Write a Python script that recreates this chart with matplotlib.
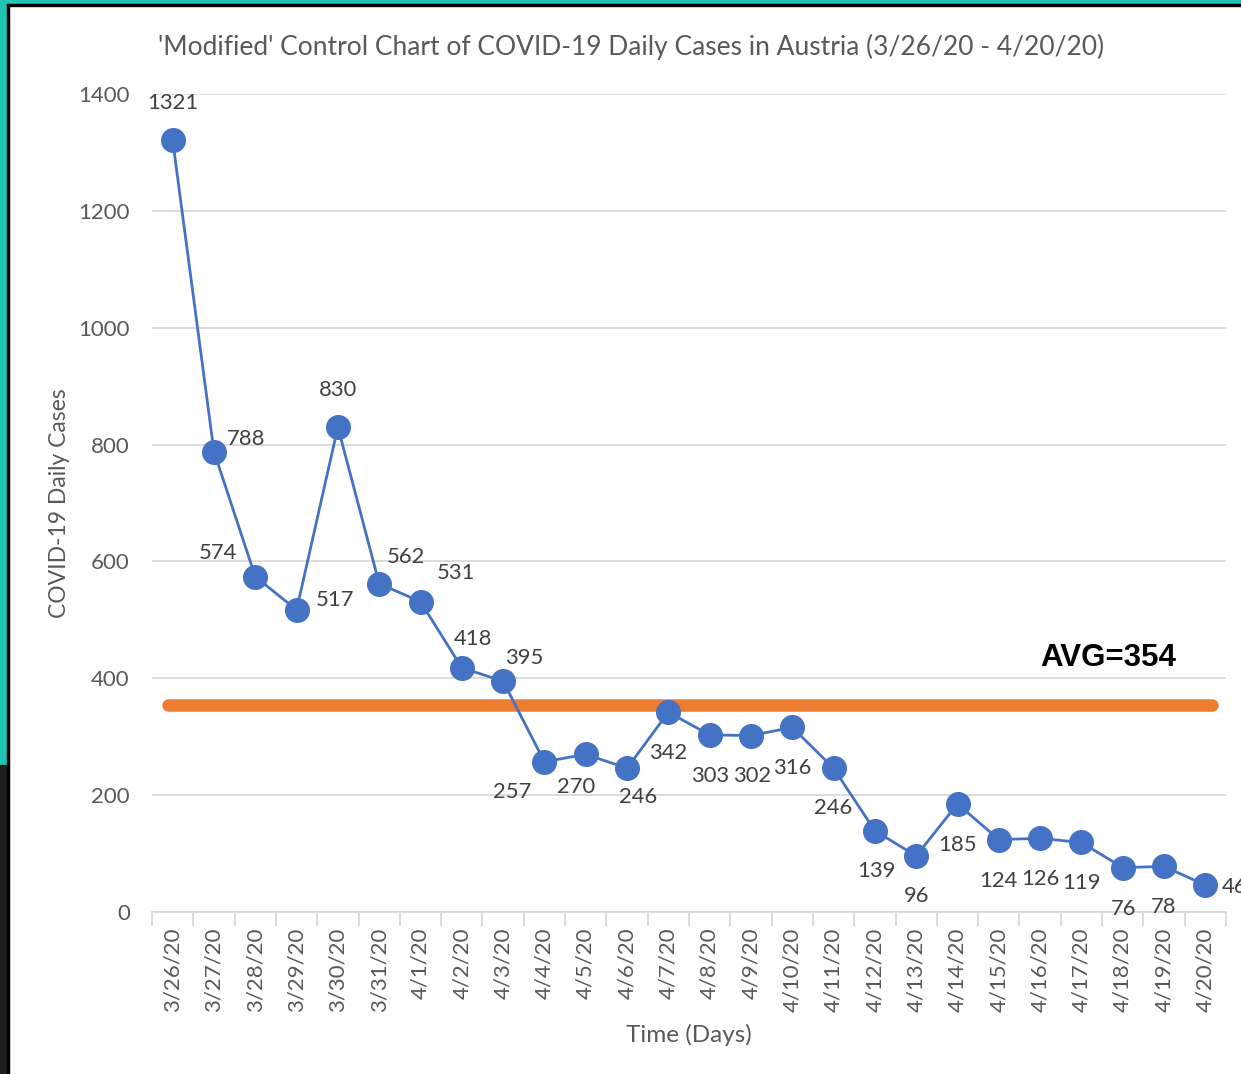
import numpy as np
import matplotlib.pyplot as plt
from matplotlib.patches import Rectangle

plt.rcParams['font.family'] = ['Lato', 'DejaVu Sans']

dates = ['3/26/20', '3/27/20', '3/28/20', '3/29/20', '3/30/20', '3/31/20', '4/1/20',
         '4/2/20', '4/3/20', '4/4/20', '4/5/20', '4/6/20', '4/7/20', '4/8/20',
         '4/9/20', '4/10/20', '4/11/20', '4/12/20', '4/13/20', '4/14/20', '4/15/20',
         '4/16/20', '4/17/20', '4/18/20', '4/19/20', '4/20/20']
cases = [1321, 788, 574, 517, 830, 562, 531, 418, 395, 257, 270, 246, 342, 303,
         302, 316, 246, 139, 96, 185, 124, 126, 119, 76, 78, 46]
avg = 354

# label offsets in pixels (dx, dy), Excel-like placement
offsets = [(0, 37), (32, 13), (-37, 24), (38, 10), (0, 37), (27, 27), (35, 29),
           (11, 29), (21, 23), (-32, -30), (-10, -33), (11, -29), (0, -41), (1, -41),
           (1, -40), (0, -41), (0, -40), (1, -40), (0, -40), (0, -41), (0, -41),
           (0, -41), (0, -41), (1, -41), (0, -41), (29, -2)]

fig = plt.figure(figsize=(12.41, 10.74), dpi=100)
ax = fig.add_axes([152 / 1241, 1 - 912 / 1074, (1226 - 152) / 1241, (912 - 94) / 1074])

x = np.arange(len(dates))
ax.plot(x, cases, color='#4472C4', lw=2, marker='o', ms=17, zorder=3)
ax.plot([-0.12, len(dates) - 1 + 0.17], [avg, avg], color='#ED7D31', lw=9,
        solid_capstyle='round', zorder=2)
ax.text(24.3, 435, 'AVG=' + str(avg), fontsize=22.5, fontweight='bold',
        ha='right', va='center', color='black', family=['Liberation Sans', 'DejaVu Sans'])

for i, v in enumerate(cases):
    ax.annotate(str(v), (x[i], v), xytext=offsets[i], textcoords='offset pixels',
                ha='center', va='center', fontsize=15.8, color='#404040',
                annotation_clip=False, zorder=4)

ax.set_xlim(-0.5, len(dates) - 0.5)
ax.set_ylim(0, 1400)
ax.set_yticks(range(0, 1401, 200))
ax.set_xticks(x)
ax.set_xticklabels(dates, rotation=90, fontsize=16, color='#595959')
ax.set_xticks(np.arange(-0.5, len(dates), 1), minor=True)
ax.tick_params(axis='x', which='major', length=0, pad=11)
ax.tick_params(axis='x', which='minor', length=10, color='#D9D9D9', width=1.3)
ax.tick_params(axis='y', length=0, pad=16, labelsize=16, labelcolor='#595959')
ax.grid(axis='y', color='#D9D9D9', lw=1.3)
ax.set_axisbelow(True)
for s in ['top', 'right', 'left']:
    ax.spines[s].set_visible(False)
ax.spines['bottom'].set_color('#D9D9D9')
ax.spines['bottom'].set_linewidth(1.3)

ax.set_title("'Modified' Control Chart of COVID-19 Daily Cases in Austria (3/26/20 - 4/20/20)",
             fontsize=19, color='#595959', pad=28, x=(631 - 152) / (1226 - 152))
ax.set_xlabel('Time (Days)', fontsize=17.5, color='#595959', labelpad=9)
ax.set_ylabel('COVID-19 Daily Cases', fontsize=16.5, color='#595959')
ax.yaxis.set_label_coords((70 - 152) / (1226 - 152), 0.5)

# frame decoration around the slide
fig.patches.append(Rectangle((0, 1 - 765 / 1074), 7 / 1241, 765 / 1074, transform=fig.transFigure,
                             color='#1FC4B4', zorder=0))
fig.patches.append(Rectangle((0, 1 - 4 / 1074), 1, 4 / 1074, transform=fig.transFigure,
                             color='#1FC4B4', zorder=0))
fig.patches.append(Rectangle((0, 0), 7 / 1241, 1 - 765 / 1074, transform=fig.transFigure,
                             color='#1E1E1E', zorder=0))
fig.patches.append(Rectangle((7 / 1241, 0), 2 / 1241, 1 - 4 / 1074, transform=fig.transFigure,
                             color='black', zorder=0))
fig.patches.append(Rectangle((7 / 1241, 1 - 6 / 1074), 1, 2 / 1074, transform=fig.transFigure,
                             color='black', zorder=0))

fig.savefig('out.png', dpi=100)
